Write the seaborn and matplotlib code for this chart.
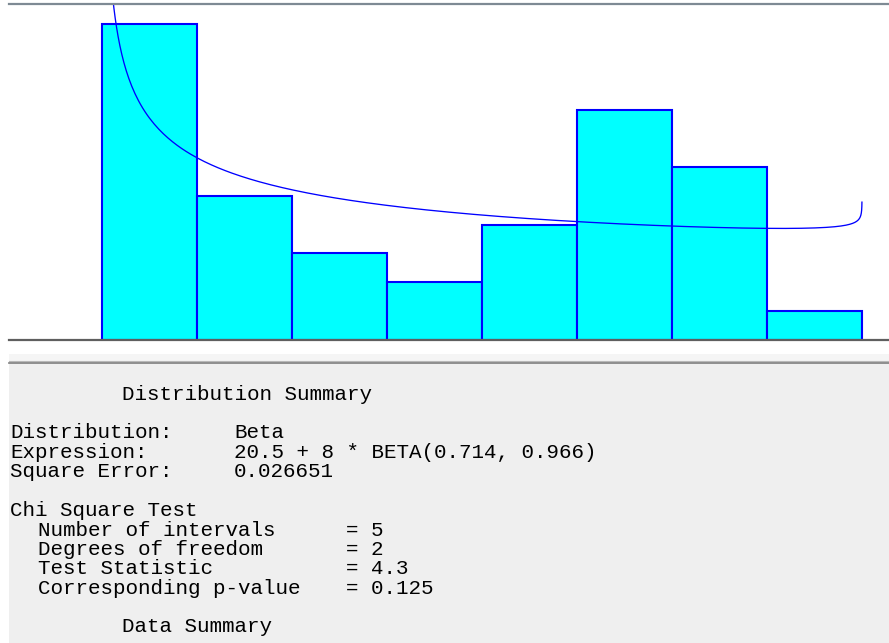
import math
import numpy as np
import pandas as pd
import matplotlib
matplotlib.use("Agg")
import matplotlib.pyplot as plt
from matplotlib.patches import Rectangle
from matplotlib.lines import Line2D
import seaborn as sns

# Histogram: 8 intervals of width 1 between 20.5 and 28.5, relative frequencies
bin_edges = [20.5, 21.5, 22.5, 23.5, 24.5, 25.5, 26.5, 27.5, 28.5]
rel_freq = [0.275, 0.125, 0.075, 0.05, 0.1, 0.2, 0.15, 0.025]

# Fitted distribution: 20.5 + 8 * BETA(0.714, 0.966)
fit_loc = 20.5
fit_scale = 8.0
fit_a = 0.714
fit_b = 0.966

# Summary panel text: (column, line y in px, text)
summary_rows = [
    (8, 400, "Distribution Summary"),
    (0, 438.5, "Distribution:"), (16, 438.5, "Beta"),
    (0, 457.8, "Expression:"), (16, 457.8, "20.5 + 8 * BETA(0.714, 0.966)"),
    (0, 477, "Square Error:"), (16, 477, "0.026651"),
    (0, 516.3, "Chi Square Test"),
    (2, 535.6, "Number of intervals"), (24, 535.6, "= 5"),
    (2, 554.9, "Degrees of freedom"), (24, 554.9, "= 2"),
    (2, 574.2, "Test Statistic"), (24, 574.2, "= 4.3"),
    (2, 593.5, "Corresponding p-value"), (24, 593.5, "= 0.125"),
    (8, 632, "Data Summary"),
]

W, H = 889, 643
fig = plt.figure(figsize=(W / 100, H / 100), dpi=100)
fig.patch.set_facecolor("white")

def fx(px):
    return px / W

def fy(py):
    return 1 - py / H

# plot area: from x=9 to right edge, y=4 to baseline 339.5
ax_top, ax_bottom = 4.0, 339.5
ax = fig.add_axes([fx(9), fy(ax_bottom), (W - 9) / W, (ax_bottom - ax_top) / H])
ax.set_facecolor("white")

px_per_unit_x = (862 - 102.5) / 8.0
x_left = 20.5 - (102.5 - 9) / px_per_unit_x
x_right = 28.5 + (W - 862) / px_per_unit_x
px_per_unit_y = 1148.0
y_top = (ax_bottom - ax_top) / px_per_unit_y

centers = [(bin_edges[i] + bin_edges[i + 1]) / 2 for i in range(len(rel_freq))]
hist_df = pd.DataFrame({"x": centers, "w": rel_freq})
sns.histplot(data=hist_df, x="x", weights="w", bins=bin_edges, stat="count",
             color="#00ffff", edgecolor="#0000ff", linewidth=1.5, alpha=1,
             ax=ax, zorder=1)

# density of the fitted beta, per unit of x
beta_fn = math.gamma(fit_a) * math.gamma(fit_b) / math.gamma(fit_a + fit_b)
t = np.unique(np.concatenate([np.geomspace(1e-4, 0.05, 120),
                              np.linspace(0.05, 0.95, 300),
                              1 - np.geomspace(0.05, 8e-5, 120)]))
dens = t ** (fit_a - 1) * (1 - t) ** (fit_b - 1) / beta_fn / fit_scale
curve_df = pd.DataFrame({"x": fit_loc + fit_scale * t, "y": dens})
sns.lineplot(data=curve_df, x="x", y="y", color="#0000ff", linewidth=0.95,
             estimator=None, sort=False, ax=ax, zorder=2)

ax.set_xlim(x_left, x_right)
ax.set_ylim(0, y_top)
ax.set_xticks([])
ax.set_yticks([])
ax.set_xlabel("")
ax.set_ylabel("")
for side in ["left", "right"]:
    ax.spines[side].set_visible(False)
ax.spines["top"].set_color("#7e8a94")
ax.spines["top"].set_linewidth(1.6)
ax.spines["bottom"].set_color("#5f5f5f")
ax.spines["bottom"].set_linewidth(1.6)

# separator between chart and summary panel
fig.patches.append(Rectangle((fx(9), fy(361)), (W - 9) / W, 7 / H,
                             transform=fig.transFigure, facecolor="#f5f5f5",
                             edgecolor="none", zorder=0))
fig.patches.append(Rectangle((fx(9), fy(H)), (W - 9) / W, (H - 364) / H,
                             transform=fig.transFigure, facecolor="#efefef",
                             edgecolor="none", zorder=0))
fig.lines.append(Line2D([fx(9), 1], [fy(361.5), fy(361.5)], transform=fig.transFigure,
                        color="#b8b8b8", linewidth=0.8))
fig.lines.append(Line2D([fx(9), 1], [fy(363.2), fy(363.2)], transform=fig.transFigure,
                        color="#7a7a7a", linewidth=1.2))

char_w = 14.0
for col, ypx, s in summary_rows:
    fig.text(fx(10 + col * char_w), fy(ypx), s, family="Liberation Mono",
             fontsize=15, color="black", ha="left", va="baseline")

fig.savefig("out.png", dpi=100, facecolor=fig.get_facecolor())
